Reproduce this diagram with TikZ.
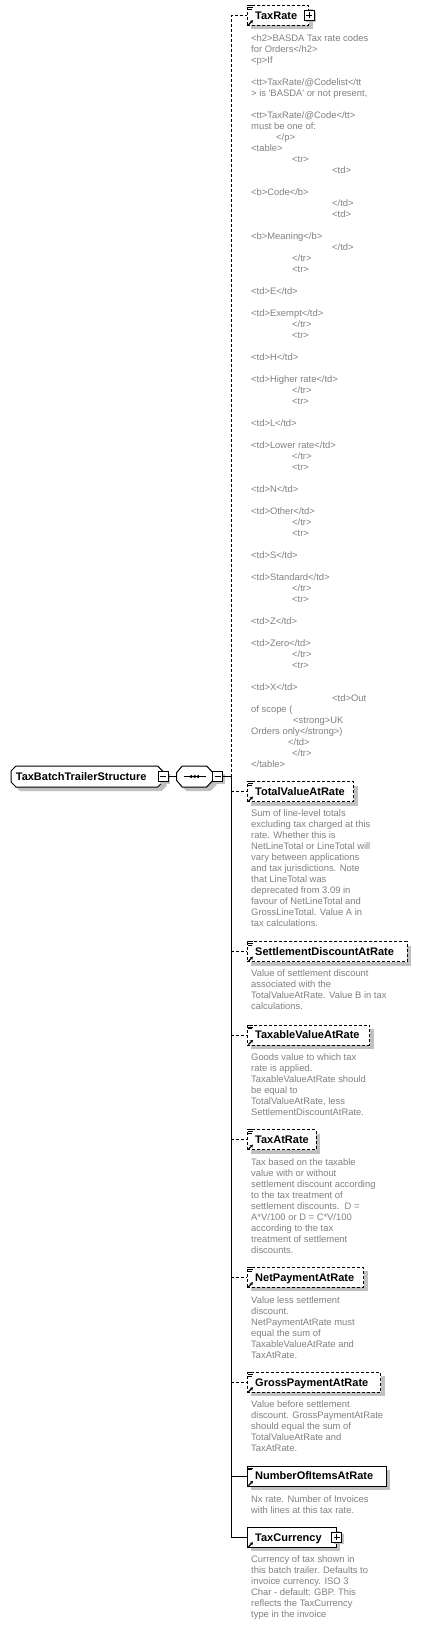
\documentclass[tikz,border=0pt]{standalone}
\usepackage{fontspec}
\setmainfont{Liberation Sans}
\usetikzlibrary{shapes.misc,shadows,arrows.meta}
\definecolor{docgray}{RGB}{128,128,128}
\definecolor{shadowgray}{RGB}{192,192,192}
\newcommand{\ind}[1]{\hspace*{#1pt}}
\newcommand{\docicon}[1]{\draw[line width=0.8pt, shift={(#1.north west)}] (1.2,0.6) -- (6,0.6) (1.2,2.4) -- (6,2.4) (1.2,4.2) -- (5.2,4.2);}
\newcommand{\reficon}[1]{\draw[line width=1.2pt, -{Stealth[length=3pt,width=3.6pt]}, shift={(#1.south west)}] (1.8,-1) -- (6.2,-5.6);}
\newcommand{\seqoutline}{(-18,-4) -- (-12.5,-10.5) -- (12,-10.5) -- (18,-4) -- (18,4) -- (12,10.5) -- (-12.5,10.5) -- (-18,4) -- cycle}
\tikzset{
  boxshadow/.style={drop shadow={shadow xshift=4pt, shadow yshift=-4pt, fill=shadowgray, opacity=1}},
  elem/.style={rectangle, draw=black, line width=1pt, fill=white, minimum height=20pt, inner xsep=8pt, inner ysep=0pt, align=left, text height=9.9pt, text depth=2pt, font=\fontsize{11}{13}\selectfont\bfseries, boxshadow},
  optelem/.style={elem, dash pattern=on 3pt off 2pt},
  rootelem/.style={chamfered rectangle, chamfered rectangle sep=2.5pt, draw=black, line width=1pt, fill=white, minimum width=151.7pt, minimum height=21pt, inner sep=0pt, text width=142pt, align=left, text height=9.9pt, text depth=2pt, font=\fontsize{11}{13}\selectfont\bfseries, boxshadow},
  seqbox/.style={rectangle, minimum width=36pt, minimum height=21pt, inner sep=0pt},
  expbox/.style={rectangle, draw=black, line width=1pt, fill=white, minimum size=10pt, inner sep=0pt, drop shadow={shadow xshift=2pt, shadow yshift=-2pt, fill=shadowgray, opacity=1}},
  plusexp/.style={expbox, path picture={\draw[line width=1pt] (path picture bounding box.center) +(-3,0) -- +(3,0) +(0,-3) -- +(0,3);}},
  minusexp/.style={expbox, path picture={\draw[line width=1pt] (path picture bounding box.center) +(-3,0) -- +(3,0);}},
  docnote/.style={anchor=north west, inner sep=0pt, align=left, text=docgray, font=\fontsize{9.4}{11}\selectfont},
  conn/.style={line width=1pt},
  optconn/.style={conn, dash pattern=on 3pt off 2pt}
}

\begin{document}
\begin{tikzpicture}[x=1pt, y=-1pt]
	\useasboundingbox (0,0) rectangle (421,1625);

	% root and sequence
	\node[rootelem] (root) at (86.85,776.5) {TaxBatchTrailerStructure};
	\node[minusexp] (rootexp) at (root.east) {};
	\node[seqbox] (seq) at (194.7,776.5) {};
	\fill[shadowgray, shift={(seq.center)}, xshift=4pt, yshift=-4pt] \seqoutline;
	\draw[line width=1pt, fill=white, shift={(seq.center)}] \seqoutline;
	\draw[line width=1pt] (seq.center) +(-11,0) -- +(11,0);
	\foreach \d in {-3.5,0,3.5}
		\fill ([xshift=\d pt]seq.center) circle (1.7pt);
	\node[minusexp] (seqexp) at ([xshift=5pt]seq.east) {};
	\coordinate (trunk) at (231,776.5);

	% TaxRate
	\node[optelem, anchor=west, text width=45.6pt] (TaxRate) at (246.7,15.3) {TaxRate};
	\node[plusexp] (TaxRateexp) at (TaxRate.east) {};
	\docicon{TaxRate}
	\reficon{TaxRate}
	\node[docnote] (TaxRatedoc) at (251,34) {<h2>BASDA Tax rate codes\\
for Orders</h2>\\
<p>If\\[11pt]
<tt>TaxRate/@Codelist</tt\\
> is \textquotesingle BASDA\textquotesingle{} or not present,\\[11pt]
<tt>TaxRate/@Code</tt>\\
must be one of:\\
\ind{25}</p>\\
<table>\\
\ind{41}<tr>\\
\ind{81}<td>\\[11pt]
<b>Code</b>\\
\ind{81}</td>\\
\ind{81}<td>\\[11pt]
<b>Meaning</b>\\
\ind{81}</td>\\
\ind{41}</tr>\\
\ind{41}<tr>\\[11pt]
<td>E</td>\\[11pt]
<td>Exempt</td>\\
\ind{41}</tr>\\
\ind{41}<tr>\\[11pt]
<td>H</td>\\[11pt]
<td>Higher rate</td>\\
\ind{41}</tr>\\
\ind{41}<tr>\\[11pt]
<td>L</td>\\[11pt]
<td>Lower rate</td>\\
\ind{41}</tr>\\
\ind{41}<tr>\\[11pt]
<td>N</td>\\[11pt]
<td>Other</td>\\
\ind{41}</tr>\\
\ind{41}<tr>\\[11pt]
<td>S</td>\\[11pt]
<td>Standard</td>\\
\ind{41}</tr>\\
\ind{41}<tr>\\[11pt]
<td>Z</td>\\[11pt]
<td>Zero</td>\\
\ind{41}</tr>\\
\ind{41}<tr>\\[11pt]
<td>X</td>\\
\ind{81}<td>Out\\
of scope (\\
\ind{42}<strong>UK\\
Orders only</strong>)\\
\ind{37}</td>\\
\ind{41}</tr>\\
</table>};

	% TotalValueAtRate
	\node[optelem, anchor=west, text width=90.6pt] (TotalValueAtRate) at (246.7,791.7) {TotalValueAtRate};
	\docicon{TotalValueAtRate}
	\reficon{TotalValueAtRate}
	\node[docnote] (TotalValueAtRatedoc) at (251,809.7) {Sum of line-level totals\\
excluding tax charged at this\\
rate. Whether this is\\
NetLineTotal or LineTotal will\\
vary between applications\\
and tax jurisdictions. Note\\
that LineTotal was\\
deprecated from 3.09 in\\
favour of NetLineTotal and\\
GrossLineTotal. Value A in\\
tax calculations.};

	% SettlementDiscountAtRate
	\node[optelem, anchor=west, text width=144pt] (SettlementDiscountAtRate) at (246.7,951.7) {SettlementDiscountAtRate};
	\docicon{SettlementDiscountAtRate}
	\reficon{SettlementDiscountAtRate}
	\node[docnote] (SettlementDiscountAtRatedoc) at (251,969.7) {Value of settlement discount\\
associated with the\\
TotalValueAtRate. Value B in tax\\
calculations.};

	% TaxableValueAtRate
	\node[optelem, anchor=west, text width=106.3pt] (TaxableValueAtRate) at (246.7,1035) {TaxableValueAtRate};
	\docicon{TaxableValueAtRate}
	\reficon{TaxableValueAtRate}
	\node[docnote] (TaxableValueAtRatedoc) at (251,1053) {Goods value to which tax\\
rate is applied.\\
TaxableValueAtRate should\\
be equal to\\
TotalValueAtRate, less\\
SettlementDiscountAtRate.};

	% TaxAtRate
	\node[optelem, anchor=west, text width=53pt] (TaxAtRate) at (246.7,1139.7) {TaxAtRate};
	\docicon{TaxAtRate}
	\reficon{TaxAtRate}
	\node[docnote] (TaxAtRatedoc) at (251,1158) {Tax based on the taxable\\
value with or without\\
settlement discount according\\
to the tax treatment of\\
settlement discounts.\ \ D =\\
A*V/100 or D = C*V/100\\
according to the tax\\
treatment of settlement\\
discounts.};

	% NetPaymentAtRate
	\node[optelem, anchor=west, text width=100.6pt] (NetPaymentAtRate) at (246.7,1277.3) {NetPaymentAtRate};
	\docicon{NetPaymentAtRate}
	\reficon{NetPaymentAtRate}
	\node[docnote] (NetPaymentAtRatedoc) at (251,1296) {Value less settlement\\
discount.\\
NetPaymentAtRate must\\
equal the sum of\\
TaxableValueAtRate and\\
TaxAtRate.};

	% GrossPaymentAtRate
	\node[optelem, anchor=west, text width=117.3pt] (GrossPaymentAtRate) at (246.7,1382.3) {GrossPaymentAtRate};
	\docicon{GrossPaymentAtRate}
	\reficon{GrossPaymentAtRate}
	\node[docnote] (GrossPaymentAtRatedoc) at (251,1400.7) {Value before settlement\\
discount. GrossPaymentAtRate\\
should equal the sum of\\
TotalValueAtRate and\\
TaxAtRate.};

	% NumberOfItemsAtRate
	\node[elem, anchor=west, text width=123pt] (NumberOfItemsAtRate) at (246.7,1476) {NumberOfItemsAtRate};
	\docicon{NumberOfItemsAtRate}
	\reficon{NumberOfItemsAtRate}
	\node[docnote] (NumberOfItemsAtRatedoc) at (251,1495) {Nx rate. Number of Invoices\\
with lines at this tax rate.};

	% TaxCurrency
	\node[elem, anchor=west, text width=73pt] (TaxCurrency) at (246.7,1537.3) {TaxCurrency};
	\node[plusexp] (TaxCurrencyexp) at (TaxCurrency.east) {};
	\reficon{TaxCurrency}
	\node[docnote] (TaxCurrencydoc) at (251,1555.7) {Currency of tax shown in\\
this batch trailer. Defaults to\\
invoice currency. ISO 3\\
Char - default: GBP. This\\
reflects the TaxCurrency\\
type in the invoice};

	% connectors
	\draw[conn] (rootexp) -- (seq);
	\draw[conn] (seqexp) -- (trunk);
	\draw[optconn] (trunk) |- (TaxRate);
	\draw[conn] (trunk) |- (TaxCurrency);
	\draw[optconn] (trunk |- TotalValueAtRate) -- (TotalValueAtRate);
	\draw[optconn] (trunk |- SettlementDiscountAtRate) -- (SettlementDiscountAtRate);
	\draw[optconn] (trunk |- TaxableValueAtRate) -- (TaxableValueAtRate);
	\draw[optconn] (trunk |- TaxAtRate) -- (TaxAtRate);
	\draw[optconn] (trunk |- NetPaymentAtRate) -- (NetPaymentAtRate);
	\draw[optconn] (trunk |- GrossPaymentAtRate) -- (GrossPaymentAtRate);
	\draw[conn] (trunk |- NumberOfItemsAtRate) -- (NumberOfItemsAtRate);
\end{tikzpicture}
\end{document}
